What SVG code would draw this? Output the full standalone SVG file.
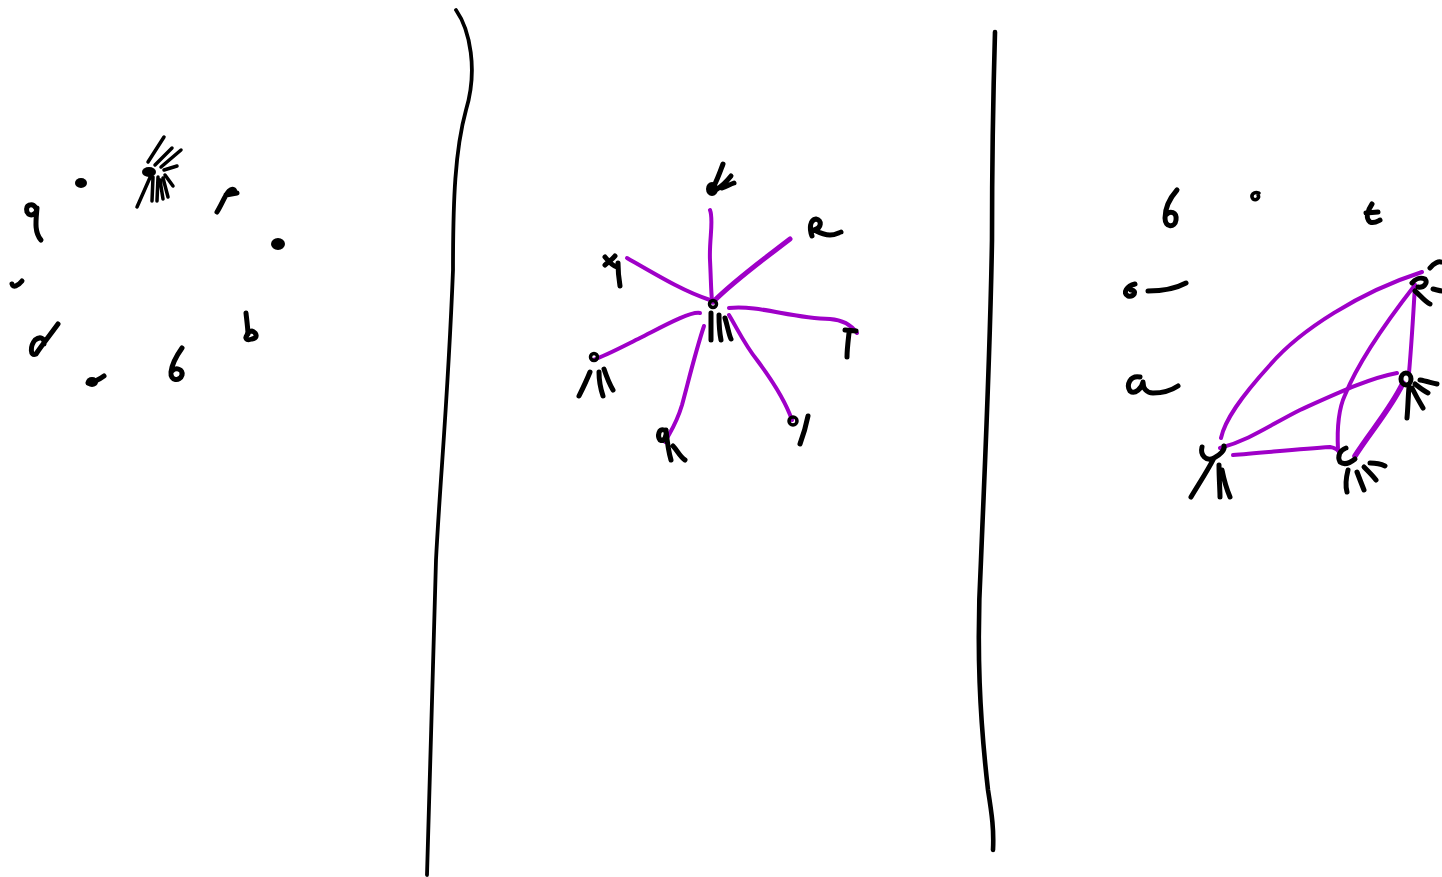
<svg xmlns="http://www.w3.org/2000/svg" width="1442" height="877" viewBox="0 0 1442 877">
<style>
.ink{fill:none;stroke:#000;stroke-width:5;stroke-linecap:round;stroke-linejoin:round}
.thin{stroke-width:3.5}
.blob{fill:#000}
.edge{fill:none;stroke:#9f00c8;stroke-width:4;stroke-linecap:round}
.div{fill:none;stroke:#000;stroke-width:3.8;stroke-linecap:round}
</style>
<rect width="1442" height="877" fill="#fff"/>
<g id="dividers">
<path class="div" d="M456,10 C470,30 478,70 466,110 C455,150 453,200 453,270 C448,400 440,480 436,560 C433,680 430,760 427,875"/>
<path class="div" d="M995,32 C993,100 992,180 992,240 C990,360 985,460 981,560 C976,650 980,720 988,790 C992,815 994,830 993,850" style="stroke-width:4.6"/>
</g>
<g id="p1-q"><path class="ink" d="M36,208 C32,202 25,205 27,212 C30,218 37,214 37,208 C36,220 34,232 41,240"/></g>
<g id="p1-o"><ellipse class="blob" cx="81" cy="183" rx="6" ry="5"/></g>
<g id="p1-star"><path class="ink thin" d="M148,162 L164,137 M155,165 L172,148 M161,167 L181,150 M164,170 L177,166 M137,207 L152,173 M152,201 L153,177 M157,201 L158,177 M163,199 L160,180 M168,197 L163,178 M173,186 L165,175"/><ellipse class="blob" cx="149" cy="172" rx="7" ry="5"/></g>
<g id="p1-f"><path class="ink" d="M217,212 C222,204 225,195 229,191 C232,188 235,189 235,193 M226,195 L237,193"/></g>
<g id="p1-dot"><ellipse class="blob" cx="278" cy="244" rx="7" ry="6"/></g>
<g id="p1-c"><path class="ink" d="M22,281 C18,286 13,288 12,284"/></g>
<g id="p1-a"><path class="ink" d="M58,324 C50,335 42,345 36,354 C30,357 30,346 35,340 C40,336 45,338 44,344"/></g>
<g id="p1-dot2"><path class="ink" d="M88,383 C94,382 100,379 104,376"/><ellipse class="blob" cx="92" cy="382" rx="6" ry="5"/></g>
<g id="p1-6"><path class="ink" d="M182,348 C177,355 172,364 171,372 C170,381 180,382 182,375 C183,369 176,367 172,371"/></g>
<g id="p1-d"><path class="ink" d="M246,313 C247,322 248,330 248,334 C244,338 246,341 252,339 C258,338 257,333 252,331 C249,331 247,333 247,335"/></g>

<g id="connectors">
<path class="edge" d="M710,210 C714,220 709,240 710,260 C711,280 711,292 712,300"/>
<path class="edge" d="M713,302 C735,280 760,262 790,239" style="stroke-width:5"/>
<path class="edge" d="M627,258 C660,277 685,292 710,300"/>
<path class="edge" d="M729,308 C760,305 790,318 830,319 C845,320 852,326 857,333"/>
<path class="edge" d="M700,313 C690,311 660,328 640,338 C620,348 605,356 593,360"/>
<path class="edge" d="M704,326 C696,350 690,375 682,405 C676,425 670,432 665,442"/>
<path class="edge" d="M729,315 C738,330 745,345 757,360 C772,380 785,400 792,420"/>
<path class="edge" d="M1221,438 C1225,420 1240,398 1270,365 C1300,330 1360,292 1422,272"/>
<path class="edge" d="M1220,448 C1250,440 1270,425 1300,410 C1340,392 1370,378 1397,373"/>
<path class="edge" d="M1233,455 C1260,453 1300,449 1330,447 C1336,448 1338,450 1339,452"/>
<path class="edge" d="M1338,450 C1337,430 1338,410 1345,395 C1355,370 1380,330 1415,285"/>
<path class="edge" d="M1409,373 C1411,350 1413,320 1415,285"/>
<path class="edge" d="M1355,456 C1370,432 1390,410 1403,383" style="stroke-width:5.5"/>
</g>

<g id="p2-top"><ellipse class="blob" cx="712" cy="189" rx="6" ry="7"/><path class="ink" d="M714,186 C718,178 720,172 723,164 M717,189 C722,186 727,181 731,176 M722,188 C727,186 731,184 734,183"/></g>
<g id="p2-rc"><path class="ink" d="M812,236 C809,228 810,220 816,219 C822,220 822,228 814,230 C820,233 825,235 830,235 C835,235 838,233 841,232"/></g>
<g id="p2-x"><path class="ink" d="M605,265 C608,262 612,260 615,256 M605,257 C609,262 613,266 617,267 M618,263 C618,272 619,280 620,286"/></g>
<g id="p2-f"><path class="ink" d="M849,333 C848,342 847,350 847,357 M845,330 L856,331"/></g>
<g id="p2-center"><circle class="ink thin" cx="713" cy="304" r="3.5"/><path class="ink" d="M711,313 L711,340 M719,315 C719,325 720,335 721,340 M725,318 C728,328 729,335 731,339"/></g>
<g id="p2-a"><circle class="ink thin" cx="594" cy="357" r="3.5"/><path class="ink" d="M590,372 C586,382 582,390 579,396 M599,372 C599,382 601,390 603,396 M604,369 C607,378 610,385 613,390"/></g>
<g id="p2-q"><path class="ink" d="M664,430 C659,428 657,436 660,440 C664,442 667,437 666,430 C667,440 668,450 671,460 M673,446 C677,450 680,457 685,460"/></g>
<g id="p2-o"><circle class="ink thin" cx="793" cy="421" r="4"/><path class="ink" d="M808,416 C806,426 803,436 800,444"/></g>

<g id="p3-6"><path class="ink" d="M1177,190 C1170,198 1165,208 1165,218 C1165,228 1175,228 1176,220 C1177,212 1170,210 1166,215"/></g>
<g id="p3-o"><path class="ink thin" d="M1259,193 C1254,191 1250,195 1253,199 C1256,201 1260,198 1258,195"/></g>
<g id="p3-t"><path class="ink" d="M1372,204 C1368,210 1365,218 1370,222 C1374,224 1378,221 1380,220 M1366,213 L1378,212"/></g>
<g id="p3-6dash"><path class="ink" d="M1135,284 C1127,286 1122,293 1128,296 C1134,297 1138,291 1131,290 M1148,291 C1160,291 1175,289 1186,283"/></g>
<g id="p3-w"><path class="ink" d="M1140,377 C1130,375 1126,385 1130,391 C1135,395 1142,388 1143,382 C1143,389 1147,393 1153,393 C1162,393 1172,390 1178,386"/></g>
<g id="p3-A"><path class="ink" d="M1412,283 C1415,279 1420,277 1425,279 C1428,283 1424,288 1418,287 M1430,268 C1434,263 1439,261 1441,262 M1415,291 C1420,295 1425,302 1430,304 M1433,289 C1437,290 1440,291 1442,291"/></g>
<g id="p3-B"><ellipse class="ink" cx="1406" cy="379" rx="5" ry="6"/><path class="ink" d="M1409,387 C1408,398 1408,408 1407,418 M1412,388 C1416,396 1420,403 1423,408 M1415,384 C1420,388 1424,391 1428,393 M1420,380 C1426,381 1432,383 1437,384"/></g>
<g id="p3-C"><path class="ink" d="M1346,448 C1340,450 1337,456 1340,462 C1344,465 1350,463 1355,459 M1348,470 C1346,478 1345,485 1347,492 M1357,472 C1360,480 1362,485 1364,490 M1364,467 C1369,472 1373,476 1376,480 M1370,463 C1376,463 1381,464 1385,466"/></g>
<g id="p3-D"><path class="ink" d="M1202,447 C1200,455 1206,462 1214,458 C1220,455 1225,450 1224,446 M1214,458 C1208,470 1200,482 1191,497 M1219,465 C1219,478 1220,490 1220,497 M1222,470 C1224,480 1227,490 1230,497"/></g>
</svg>
